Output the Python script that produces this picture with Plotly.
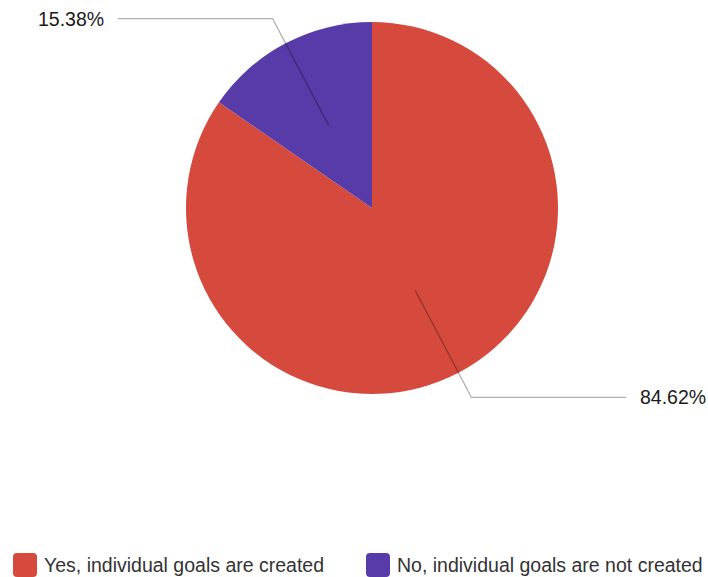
import math
import plotly.graph_objects as go

labels = ["Yes, individual goals are created", "No, individual goals are not created"]
values = [84.62, 15.38]
colors = ["#D64A3D", "#573BA8"]

W, H = 708, 577
cx, cy, R = 372, 208, 186
FONT = "Liberation Sans, Arial, sans-serif"

fig = go.Figure()
fig.add_trace(go.Pie(
    labels=labels, values=values, sort=False, direction="clockwise", rotation=0,
    marker=dict(colors=colors, line=dict(width=0)),
    textinfo="none", hoverinfo="label+percent", showlegend=False,
    domain=dict(x=[(cx - R) / W, (cx + R) / W], y=[1 - (cy + R) / H, 1 - (cy - R) / H]),
))

shapes = []
total = sum(values)
cum = 0
for v in values:
    mid = (cum + v / 2) / total * 2 * math.pi
    cum += v
    sx, sy = math.sin(mid), -math.cos(mid)
    x0, y0 = cx + 0.5 * R * sx, cy + 0.5 * R * sy
    x1, y1 = cx + 1.15 * R * sx, cy + 1.15 * R * sy
    side = 1 if sx >= 0 else -1
    x2 = x1 + side * 155
    shapes.append(dict(type="path", xref="x", yref="y", layer="above",
                       path=f"M {x0:.2f},{y0:.2f} L {x1:.2f},{y1:.2f} L {x2:.2f},{y1:.2f}",
                       line=dict(color="rgba(0,0,0,0.3)", width=1.3)))
    fig.add_annotation(x=x2 + side * 12, y=y1, xref="x", yref="y",
                       text=f"{v:.2f}%", showarrow=False,
                       xanchor="left" if side > 0 else "right", yanchor="middle",
                       font=dict(family=FONT, size=19.5, color="#1a1a1a"))

# manual legend
leg_x = [13, 366]
leg_y = 565
s = 24
r = 4
for lx, lab, col in zip(leg_x, labels, colors):
    x0, x1 = lx, lx + s
    y0, y1 = leg_y - s / 2, leg_y + s / 2
    p = (f"M {x0+r},{y0} L {x1-r},{y0} Q {x1},{y0} {x1},{y0+r} L {x1},{y1-r} "
         f"Q {x1},{y1} {x1-r},{y1} L {x0+r},{y1} Q {x0},{y1} {x0},{y1-r} "
         f"L {x0},{y0+r} Q {x0},{y0} {x0+r},{y0} Z")
    shapes.append(dict(type="path", xref="x", yref="y", layer="above", path=p,
                       fillcolor=col, line=dict(width=0)))
    fig.add_annotation(x=lx + s + 5, y=leg_y, xref="x", yref="y", text=lab,
                       showarrow=False, xanchor="left", yanchor="middle",
                       font=dict(family=FONT, size=19.5, color="#333"))

fig.update_layout(
    width=W, height=H, margin=dict(l=0, r=0, t=0, b=0),
    paper_bgcolor="white", plot_bgcolor="rgba(0,0,0,0)",
    xaxis=dict(range=[0, W], visible=False, domain=[0, 1], fixedrange=True),
    yaxis=dict(range=[H, 0], visible=False, domain=[0, 1], fixedrange=True),
    showlegend=False, shapes=shapes,
)
fig.write_html("out.html")
